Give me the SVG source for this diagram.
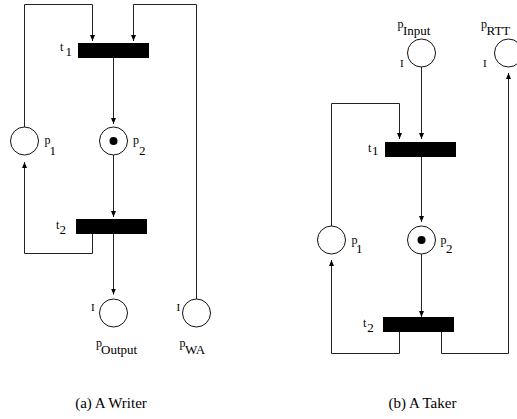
<svg xmlns="http://www.w3.org/2000/svg" width="517" height="419" viewBox="0 0 517 419">
<defs>
<marker id="arr" markerUnits="userSpaceOnUse" markerWidth="7" markerHeight="6" refX="6" refY="3" orient="auto">
<path d="M0,0.5 L6,3 L0,5.5 z" fill="#000"/>
</marker>
<style>
.pl{fill:#fff;stroke:#111;stroke-width:1}
.tr{fill:#000}
.tok{fill:#000}
.e{fill:none;stroke:#222;stroke-width:1;marker-end:url(#arr)}
text{font-family:"Liberation Serif","Times New Roman",serif;fill:#000}
.m{font-size:12px}
.s{font-size:13px}
.i{font-size:11px}
.c{font-size:15px;text-anchor:middle}
</style>
</defs>
<rect width="517" height="419" fill="#fff"/>

<g id="connectors">
<path class="e" d="M24.5,127 V4.5 H92.5 V41"/>
<path class="e" d="M196.5,299 V4.5 H133.5 V41"/>
<path class="e" d="M113.5,58 V124"/>
<path class="e" d="M113.5,155 V217"/>
<path class="e" d="M92.5,234 V253.5 H24.5 V162"/>
<path class="e" d="M113.5,234 V294.5"/>
<path class="e" d="M421.5,67 V139"/>
<path class="e" d="M331.5,226 V103.5 H399.5 V139"/>
<path class="e" d="M421.5,157 V222"/>
<path class="e" d="M421.5,254 V317"/>
<path class="e" d="M399.5,332 V353.5 H331.5 V260"/>
<path class="e" d="M441.5,332 V353.5 H508.5 V73"/>
</g>

<g id="writer-t1"><rect class="tr" x="78" y="43" width="71" height="15"/><text class="m" x="60" y="51">t<tspan class="s" x="65.5" y="56">1</tspan></text></g>
<g id="writer-t2"><rect class="tr" x="76" y="219" width="71" height="15"/><text class="m" x="56" y="228.5">t<tspan class="s" x="59.5" y="233.5">2</tspan></text></g>
<g id="writer-p1"><circle class="pl" cx="24.5" cy="141" r="14"/><text class="m" x="44.5" y="144">p<tspan class="s" x="49.5" y="155">1</tspan></text></g>
<g id="writer-p2"><circle class="pl" cx="113.5" cy="141" r="14"/><circle class="tok" cx="113.5" cy="141" r="4"/><text class="m" x="133" y="144">p<tspan class="s" x="139" y="155">2</tspan></text></g>
<g id="writer-pOutput"><circle class="pl" cx="113.5" cy="313" r="14"/><text class="i" x="91" y="310.5">I</text><text class="m" x="96" y="347">p<tspan class="s" x="101" y="354">Output</tspan></text></g>
<g id="writer-pWA"><circle class="pl" cx="196.5" cy="313" r="14"/><text class="i" x="176.5" y="310.5">I</text><text class="m" x="179.5" y="347">p<tspan class="s" x="185" y="354">WA</tspan></text></g>
<text class="c" x="111" y="408">(a) A Writer</text>

<g id="taker-pInput"><circle class="pl" cx="421.5" cy="53" r="14"/><text class="i" x="400" y="66.5">I</text><text class="m" x="397.5" y="28">p<tspan class="s" x="403" y="35">Input</tspan></text></g>
<g id="taker-pRTT"><circle class="pl" cx="508.5" cy="53" r="14"/><text class="i" x="483" y="66.5">I</text><text class="m" x="481" y="28">p<tspan class="s" x="486.5" y="35">RTT</tspan></text></g>
<g id="taker-t1"><rect class="tr" x="385" y="142" width="71" height="15"/><text class="m" x="368" y="151.5">t<tspan class="s" x="372" y="155">1</tspan></text></g>
<g id="taker-p1"><circle class="pl" cx="331.5" cy="240" r="14"/><text class="m" x="351.5" y="243.5">p<tspan class="s" x="356" y="253.3">1</tspan></text></g>
<g id="taker-p2"><circle class="pl" cx="421.5" cy="240" r="14"/><circle class="tok" cx="421.5" cy="240" r="4"/><text class="m" x="440.5" y="243.5">p<tspan class="s" x="446" y="253.3">2</tspan></text></g>
<g id="taker-t2"><rect class="tr" x="383" y="317" width="71" height="15"/><text class="m" x="363" y="326.5">t<tspan class="s" x="367.3" y="331.5">2</tspan></text></g>
<text class="c" x="422.5" y="408">(b) A Taker</text>
</svg>
